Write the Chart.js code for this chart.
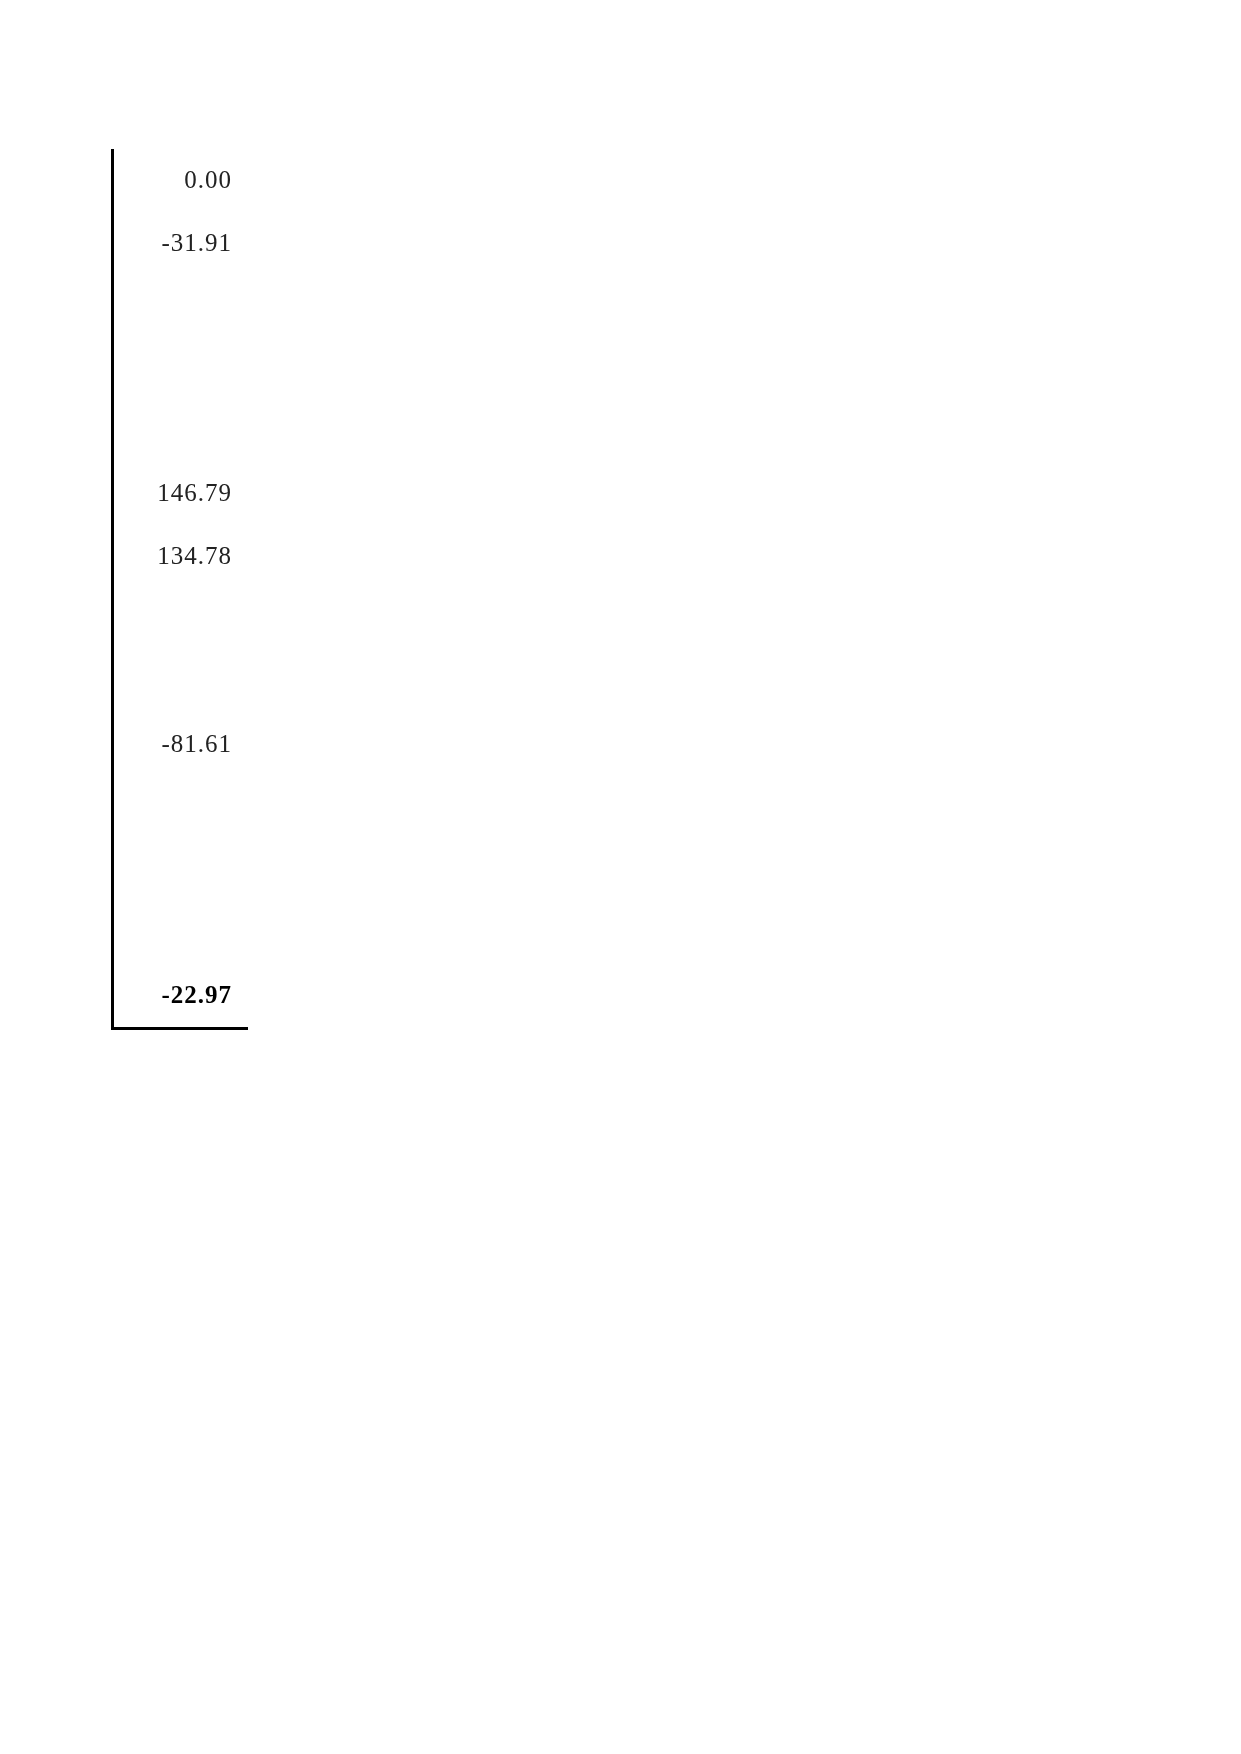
<!DOCTYPE html>
<html>
<head>
<meta charset="utf-8">
<script src="https://cdn.jsdelivr.net/npm/chart.js@4/dist/chart.umd.min.js"></script>
<style>
  html, body { margin: 0; padding: 0; background: #fff; }
  canvas { display: block; }
</style>
</head>
<body>
<canvas id="valueChart" width="1241" height="1754"></canvas>
<script>
// one row per line of the column, blank rows are null
const rows = ['r1', 'r2', 'r3', 'r4', 'r5', 'r6', 'r7', 'r8', 'r9', 'r10', 'r11', 'r12', 'r13', 'r14'];
const values = [0.00, -31.91, null, null, null, 146.79, 134.78, null, null, -81.61, null, null, null, -22.97];
const boldRows = [13];

// writes each value right aligned in its row
const valueText = {
  id: 'valueText',
  afterDatasetsDraw(chart) {
    const ctx = chart.ctx;
    const y = chart.scales.y;
    const right = chart.chartArea.right - 15;
    ctx.save();
    ctx.textAlign = 'right';
    ctx.textBaseline = 'middle';
    ctx.letterSpacing = '1px';
    values.forEach((v, i) => {
      if (v === null) return;
      const bold = boldRows.includes(i);
      ctx.font = (bold ? 'bold ' : '') + '25px "Liberation Serif", serif';
      ctx.fillStyle = bold ? '#000' : '#222';
      ctx.fillText(v.toFixed(2), right, y.getPixelForValue(i));
    });
    ctx.restore();
  }
};

const ctx = document.getElementById('valueChart').getContext('2d');
const valueChart = new Chart(ctx, {
  type: 'bar',
  data: {
    labels: rows,
    datasets: [{
      data: values,
      backgroundColor: 'rgba(0,0,0,0)',
      borderWidth: 0
    }]
  },
  options: {
    indexAxis: 'y',
    responsive: false,
    animation: false,
    layout: { padding: { left: 112, top: 150, right: 994, bottom: 726 } },
    plugins: { legend: { display: false }, tooltip: { enabled: false } },
    scales: {
      y: {
        grid: { display: false, drawTicks: false },
        ticks: { display: false },
        border: { display: true, color: '#000', width: 3 }
      },
      x: {
        grid: { display: false, drawTicks: false },
        ticks: { display: false },
        border: { display: true, color: '#000', width: 3 }
      }
    }
  },
  plugins: [valueText]
});
</script>
</body>
</html>
